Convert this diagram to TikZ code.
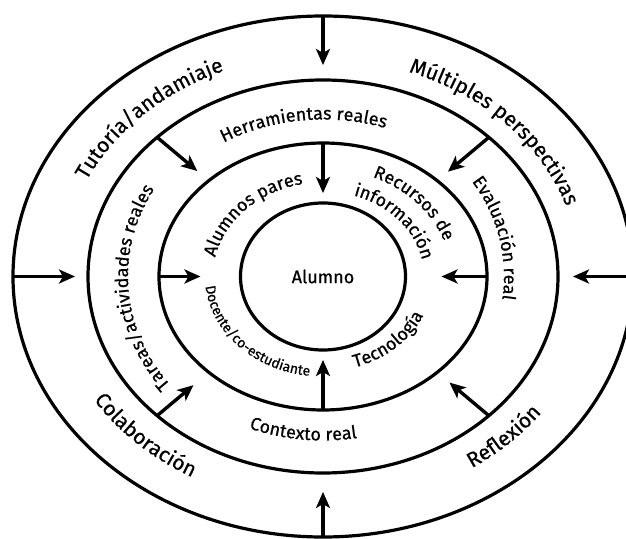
\documentclass[tikz,border=0pt]{standalone}
\usepackage{fontspec}
\setmainfont{Fira Sans}[FakeBold=0.6]
\usetikzlibrary{shapes.geometric, arrows.meta, decorations.text}
\newcommand\bandfont{\fontsize{21}{21}\selectfont}
\newcommand\midfont{\fontsize{18}{18}\selectfont}
\newcommand\smallband{\fontsize{14}{14}\selectfont}
\tikzset{
  ring/.style={draw, ellipse, line width=3.2pt, inner sep=0pt, outer sep=0pt},
  arr/.style={-{Stealth[length=16pt, width=14pt, inset=4pt]}, line width=3.4pt},
  curved/.style={decorate, decoration={text along path, text align=center, text={#1}}},
}

\begin{document}
\begin{tikzpicture}[x=1pt, y=1pt]
  \clip (-323,-261.5) rectangle (303,276.5);
  % the four rings
  \node[ring, minimum width=620pt, minimum height=521pt] (outer) at (0,0) {};
  \node[ring, minimum width=470pt, minimum height=393pt] (mid) at (0,0) {};
  \node[ring, minimum width=328pt, minimum height=267pt] (inner) at (0,0) {};
  \node[ring, minimum width=165pt, minimum height=147pt, font=\midfont] (core) at (0,0) {Alumno};

  % arrows between rings
  \draw[arr, shorten >=15pt] (outer.north) -- (mid.north);
  \draw[arr, shorten >=19pt] (outer.south) -- (mid.south);
  \draw[arr, shorten >=13pt] (outer.west) -- (mid.west);
  \draw[arr, shorten >=15pt] (outer.east) -- (mid.east);
  \draw[arr, shorten >=15pt] (mid.140) -- (inner.140);
  \draw[arr, shorten >=14pt] (mid.40) -- (inner.40);
  \draw[arr, shorten >=20pt] (mid.220) -- (inner.220);
  \draw[arr, shorten >=16pt] (mid.320) -- (inner.320);
  \draw[arr, shorten >=10pt] (inner.north) -- (core.north);
  \draw[arr, shorten >=10pt] (inner.south) -- (core.south);
  \draw[arr, shorten >=40pt] (inner.west) -- (core.west);
  \draw[arr, shorten >=36pt] (inner.east) -- (core.east);

  % outer band
  \path[curved={|\bandfont|Tutoría/andamiaje}] (180:262pt and 222pt)
    arc[start angle=180, end angle=90, x radius=262pt, y radius=222pt];
  \path[curved={|\bandfont|Múltiples perspectivas}] (90:257pt and 217pt)
    arc[start angle=90, end angle=-4, x radius=257pt, y radius=217pt];
  \path[curved={|\bandfont|Colaboración}] (196:272pt and 229pt)
    arc[start angle=196, end angle=256, x radius=272pt, y radius=229pt];
  \path[curved={|\bandfont|Reflexión}] (290:272pt and 229pt)
    arc[start angle=290, end angle=338, x radius=272pt, y radius=229pt];

  % middle band
  \path[curved={|\midfont|Herramientas reales}] (140:190pt and 157pt)
    arc[start angle=140, end angle=53, x radius=190pt, y radius=157pt];
  \path[curved={|\midfont|Evaluación real}] (60:181pt and 167pt)
    arc[start angle=60, end angle=-34, x radius=181pt, y radius=167pt];
  \path[curved={|\midfont|Contexto real}] (220:195pt and 164pt)
    arc[start angle=220, end angle=307, x radius=195pt, y radius=164pt];
  \path[curved={|\midfont|Tareas/actividades reales}] (239:195pt and 174pt)
    arc[start angle=239, end angle=129, x radius=195pt, y radius=174pt];

  % inner band
  \path[curved={|\midfont|Alumnos pares}] (177:110pt and 94pt)
    arc[start angle=177, end angle=93, x radius=110pt, y radius=94pt];
  \path[curved={|\midfont|Recursos de}] (80:128pt and 108pt)
    arc[start angle=80, end angle=4, x radius=128pt, y radius=108pt];
  \path[curved={|\midfont|información}] (80:101pt and 85pt)
    arc[start angle=80, end angle=2, x radius=101pt, y radius=85pt];
  \path[curved={|\smallband|Docente/co-estudiante}] (178:118pt and 100pt)
    arc[start angle=178, end angle=270, x radius=118pt, y radius=100pt];
  \path[curved={|\midfont|Tecnología}] (278:110pt and 95pt)
    arc[start angle=278, end angle=346, x radius=110pt, y radius=95pt];
\end{tikzpicture}
\end{document}
